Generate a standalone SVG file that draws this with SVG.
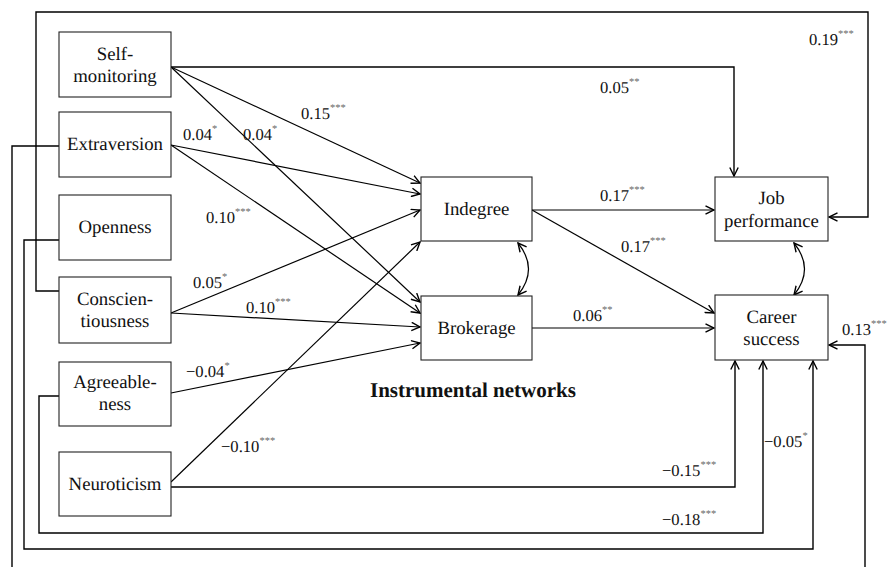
<svg xmlns="http://www.w3.org/2000/svg" width="893" height="567" viewBox="0 0 893 567" font-family="'Liberation Serif', 'Times New Roman', Tinos, serif" text-rendering="geometricPrecision">
<defs>
<marker id="ah" viewBox="0 0 10 10" refX="9" refY="5" markerWidth="10" markerHeight="10" markerUnits="userSpaceOnUse" orient="auto-start-reverse">
<path d="M0.5,0.8 L9,5 L0.5,9.2" fill="none" stroke="#000" stroke-width="1.4"/>
</marker>
<style>
.box{fill:#fff;stroke:#222;stroke-width:1.1}
.nt{font-size:18.8px;fill:#111;text-anchor:middle}
.lb{font-size:16.6px;fill:#111}
.st{font-size:10.5px;fill:#666}
.c{fill:none;stroke:#000;stroke-width:1.4}
.d{fill:none;stroke:#000;stroke-width:1.2;marker-end:url(#ah)}
.ttl{font-size:21px;font-weight:bold;fill:#111}
</style>
</defs>
<rect width="893" height="567" fill="#fff"/>
<g id="connectors">
<path class="c" d="M59,291 L36,291 L36,12 L868,12 L868,217 L829,217" marker-end="url(#ah)"/>
<path class="c" d="M171,67 L734,67 L734,176" marker-end="url(#ah)"/>
<path class="c" d="M59,146 L12,146 L12,600 L865,600 L865,345 L829,345" marker-end="url(#ah)"/>
<path class="c" d="M59,240 L24,240 L24,549 L813,549 L813,361" marker-end="url(#ah)"/>
<path class="c" d="M59,396 L39,396 L39,533 L763,533 L763,361" marker-end="url(#ah)"/>
<path class="c" d="M171,487 L735,487 L735,361" marker-end="url(#ah)"/>
<path class="d" d="M171,67 L420,183"/>
<path class="d" d="M171,67 L420,302"/>
<path class="d" d="M171,145 L420,194"/>
<path class="d" d="M171,145 L420,313"/>
<path class="d" d="M171,313 L420,210"/>
<path class="d" d="M171,313 L420,327"/>
<path class="d" d="M171,393 L420,343"/>
<path class="d" d="M171,482 L420,242"/>
<path class="d" d="M532,210 L714,210"/>
<path class="d" d="M532,210 L714,313"/>
<path class="d" d="M532,328 L714,328"/>
<path class="d" d="M518,243 Q539,269 518,295" marker-start="url(#ah)"/>
<path class="d" d="M794,243 Q815,269 794,295" marker-start="url(#ah)"/>
</g>
<g id="self-monitoring"><rect class="box" x="59" y="32" width="112" height="65"/><text class="nt" font-family="'Liberation Serif', 'Times New Roman', serif" x="115" y="60">Self-</text><text class="nt" font-family="'Liberation Serif', 'Times New Roman', serif" x="115" y="82">monitoring</text></g>
<g id="extraversion"><rect class="box" x="59" y="112" width="112" height="65"/><text class="nt" font-family="'Liberation Serif', 'Times New Roman', serif" x="115" y="150">Extraversion</text></g>
<g id="openness"><rect class="box" x="59" y="195" width="112" height="65"/><text class="nt" font-family="'Liberation Serif', 'Times New Roman', serif" x="115" y="233">Openness</text></g>
<g id="conscientiousness"><rect class="box" x="59" y="277" width="112" height="66"/><text class="nt" font-family="'Liberation Serif', 'Times New Roman', serif" x="115" y="305">Conscien-</text><text class="nt" font-family="'Liberation Serif', 'Times New Roman', serif" x="115" y="327">tiousness</text></g>
<g id="agreeableness"><rect class="box" x="59" y="362" width="112" height="64"/><text class="nt" font-family="'Liberation Serif', 'Times New Roman', serif" x="115" y="388">Agreeable-</text><text class="nt" font-family="'Liberation Serif', 'Times New Roman', serif" x="115" y="410">ness</text></g>
<g id="neuroticism"><rect class="box" x="59" y="452" width="112" height="64"/><text class="nt" font-family="'Liberation Serif', 'Times New Roman', serif" x="115" y="490">Neuroticism</text></g>
<g id="indegree"><rect class="box" x="421" y="177" width="111" height="64"/><text class="nt" font-family="'Liberation Serif', 'Times New Roman', serif" x="476.5" y="215">Indegree</text></g>
<g id="brokerage"><rect class="box" x="421" y="296" width="111" height="64"/><text class="nt" font-family="'Liberation Serif', 'Times New Roman', serif" x="476.5" y="334">Brokerage</text></g>
<g id="job-performance"><rect class="box" x="715" y="177" width="113" height="64"/><text class="nt" font-family="'Liberation Serif', 'Times New Roman', serif" x="771.5" y="204">Job</text><text class="nt" font-family="'Liberation Serif', 'Times New Roman', serif" x="771.5" y="227">performance</text></g>
<g id="career-success"><rect class="box" x="715" y="295" width="113" height="65"/><text class="nt" font-family="'Liberation Serif', 'Times New Roman', serif" x="771.5" y="323">Career</text><text class="nt" font-family="'Liberation Serif', 'Times New Roman', serif" x="771.5" y="345">success</text></g>
<g id="labels" font-family="'Liberation Serif', 'Times New Roman', serif">
<text class="lb" x="301" y="119">0.15<tspan class="st" dy="-8">***</tspan></text>
<text class="lb" x="183" y="140">0.04<tspan class="st" dy="-8">*</tspan></text>
<text class="lb" x="243" y="140">0.04<tspan class="st" dy="-8">*</tspan></text>
<text class="lb" x="206" y="223">0.10<tspan class="st" dy="-8">***</tspan></text>
<text class="lb" x="193" y="288">0.05<tspan class="st" dy="-8">*</tspan></text>
<text class="lb" x="246" y="313">0.10<tspan class="st" dy="-8">***</tspan></text>
<text class="lb" x="186" y="377">−0.04<tspan class="st" dy="-8">*</tspan></text>
<text class="lb" x="221" y="452">−0.10<tspan class="st" dy="-8">***</tspan></text>
<text class="lb" x="600" y="93">0.05<tspan class="st" dy="-8">**</tspan></text>
<text class="lb" x="809" y="45">0.19<tspan class="st" dy="-8">***</tspan></text>
<text class="lb" x="600" y="201">0.17<tspan class="st" dy="-8">***</tspan></text>
<text class="lb" x="621" y="252">0.17<tspan class="st" dy="-8">***</tspan></text>
<text class="lb" x="573" y="321">0.06<tspan class="st" dy="-8">**</tspan></text>
<text class="lb" x="842" y="335">0.13<tspan class="st" dy="-8">***</tspan></text>
<text class="lb" x="662" y="476">−0.15<tspan class="st" dy="-8">***</tspan></text>
<text class="lb" x="662" y="525">−0.18<tspan class="st" dy="-8">***</tspan></text>
<text class="lb" x="764" y="447">−0.05<tspan class="st" dy="-8">*</tspan></text>
<text class="ttl" x="370" y="397">Instrumental networks</text>
</g>
</svg>
